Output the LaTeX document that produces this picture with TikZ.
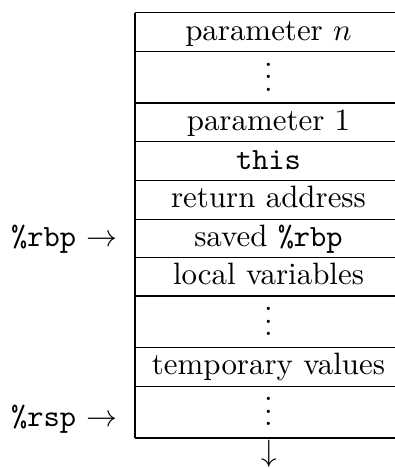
\documentclass[tikz,border=0pt]{standalone}
\begin{document}
\begin{tikzpicture}[x=0.3234pt,y=-0.3234pt,line width=0.4pt,
  cell/.style={anchor=base,inner sep=0pt},
  dots/.style={cell,text height=10pt,text depth=0pt},
  lbl/.style={anchor=base east,inner sep=0pt}]
\useasboundingbox (0,0) rectangle (395,469);
% stack frame outline (right border lies beyond the visible area)
\draw (135,12.7) -- (135,438);
\foreach \y in {12.7,51.2,103,141.6,180.8,219.3,257.7,296,347.7,386.3,438}
  \draw (135,\y) -- (395,\y);
% cells
\node[cell] (pn)   at (268.5,40)    {parameter $n$};
\node[dots] (d1)   at (268.5,91)    {$\vdots$};
\node[cell] (p1)   at (268.5,130)   {parameter 1};
\node[cell] (this) at (268.5,169.3) {\texttt{this}};
\node[cell] (ret)  at (268.5,207.8) {return address};
\node[cell] (sav)  at (268.5,246.2) {saved \texttt{\%rbp}};
\node[cell] (loc)  at (268.5,284.5) {local variables};
\node[dots] (d2)   at (268.5,335.7) {$\vdots$};
\node[cell] (tmp)  at (268.5,374.8) {temporary values};
\node[dots] (d3)   at (268.5,425.7) {$\vdots$};
% pointers
\node[lbl] (rbp) at (118,246.2) {\texttt{\%rbp} $\rightarrow$};
\node[lbl] (rsp) at (118,426.5) {\texttt{\%rsp} $\rightarrow$};
% growth direction
\node[cell] (down) at (269,461.5) {$\downarrow$};
\end{tikzpicture}
\end{document}
